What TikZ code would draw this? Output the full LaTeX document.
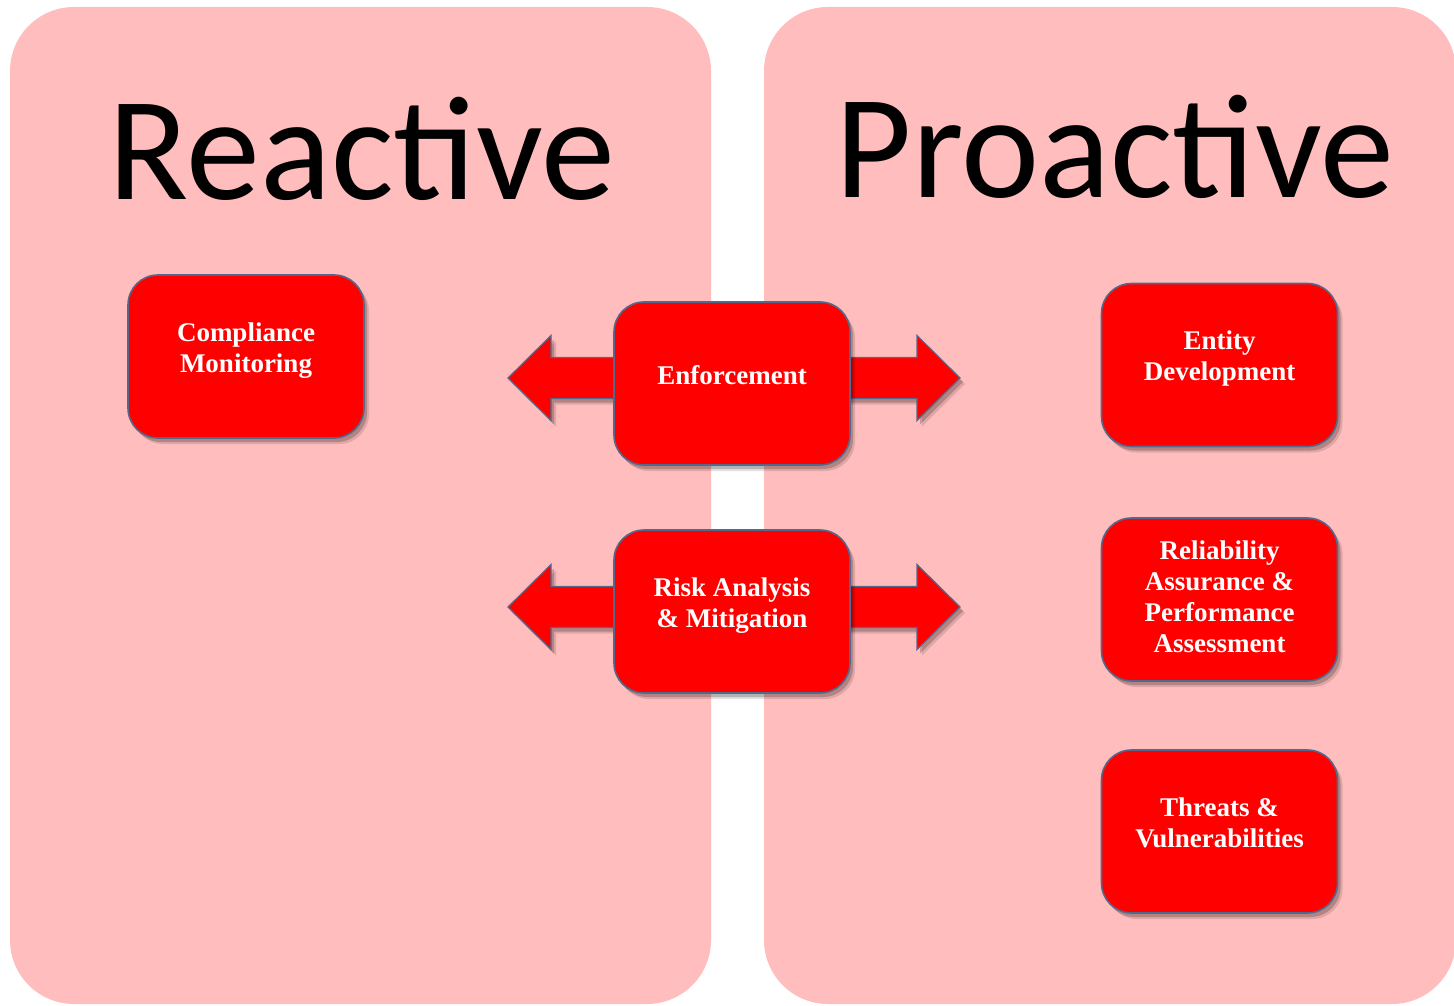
\documentclass[tikz,border=0pt]{standalone}
\usepackage{fontspec}
\setmainfont{Liberation Serif}
\newfontfamily\titlefont{Carlito}
\usetikzlibrary{calc,shadows}

\definecolor{panelpink}{RGB}{255,189,189}
\definecolor{boxred}{RGB}{255,0,0}
\definecolor{boxedge}{RGB}{84,104,140}

\pgfdeclarelayer{panels}
\pgfdeclarelayer{arrows}
\pgfsetlayers{panels,arrows,main}

\tikzset{
  panel/.style={fill=panelpink, rounded corners=32pt},
  paneltitle/.style={font=\titlefont\fontsize{74}{80}\selectfont, anchor=base},
  softshadow/.style={
    drop shadow={shadow xshift=2.5pt, shadow yshift=-3pt, fill=black, opacity=0.12},
    drop shadow={shadow xshift=1.5pt, shadow yshift=-2pt, fill=black, opacity=0.2}},
  box/.style={draw=boxedge, line width=0.8pt, fill=boxred, rounded corners=15pt,
    minimum width=118pt, minimum height=81.5pt, align=center, text=white,
    font=\bfseries\fontsize{13.5}{15.5}\selectfont, text depth=9pt, softshadow},
  blockarr/.style={draw=boxedge, line width=0.6pt, fill=boxred, softshadow}
}

% block arrow from the centre of box #1 to the tip #2, #3 = 1 (right) or -1 (left)
\newcommand{\blockarrow}[3]{%
  \path[blockarr] let \p1=(#1), \p2=(#2), \n1={\x2-(#3)*21.5pt} in
    (\x1,\y2+10.25pt) -- (\n1,\y2+10.25pt) -- (\n1,\y2+21.25pt)
    -- (\x2,\y2) -- (\n1,\y2-21.25pt) -- (\n1,\y2-10.25pt)
    -- (\x1,\y2-10.25pt) -- cycle;}

\begin{document}
\begin{tikzpicture}[x=0.5pt,y=0.5pt,yscale=-1,xscale=1]
\useasboundingbox (0,0) rectangle (1454,1005);

% panels
\begin{pgfonlayer}{panels}
\fill[panel] (10,7) rectangle (711,1004);
\fill[panel] (764,7) rectangle (1456,1004);
\end{pgfonlayer}
\node[paneltitle] (reactive) at (362,200) {Reactive};
\node[paneltitle] (proactive) at (1115,198) {Proactive};

% reactive side
\node[box] (comp) at (246,356.5) {Compliance\\Monitoring};

% shared
\node[box] (enf) at (732,383.5) {Enforcement};
\node[box] (risk) at (732,611.5) {Risk Analysis\\\& Mitigation};

% proactive side
\node[box] (ent) at (1219.5,365) {Entity\\Development};
\node[box, text depth=3pt] (rel) at (1219.5,599.5) {Reliability\\Assurance \&\\Performance\\Assessment};
\node[box] (thr) at (1219.5,831.5) {Threats \&\\Vulnerabilities};

% arrows
\coordinate (enfL) at (508,378);
\coordinate (enfR) at (960,378);
\coordinate (riskL) at (508,607);
\coordinate (riskR) at (960,607);
\begin{pgfonlayer}{arrows}
\blockarrow{enf}{enfL}{-1}
\blockarrow{enf}{enfR}{1}
\blockarrow{risk}{riskL}{-1}
\blockarrow{risk}{riskR}{1}
\end{pgfonlayer}

\end{tikzpicture}
\end{document}
